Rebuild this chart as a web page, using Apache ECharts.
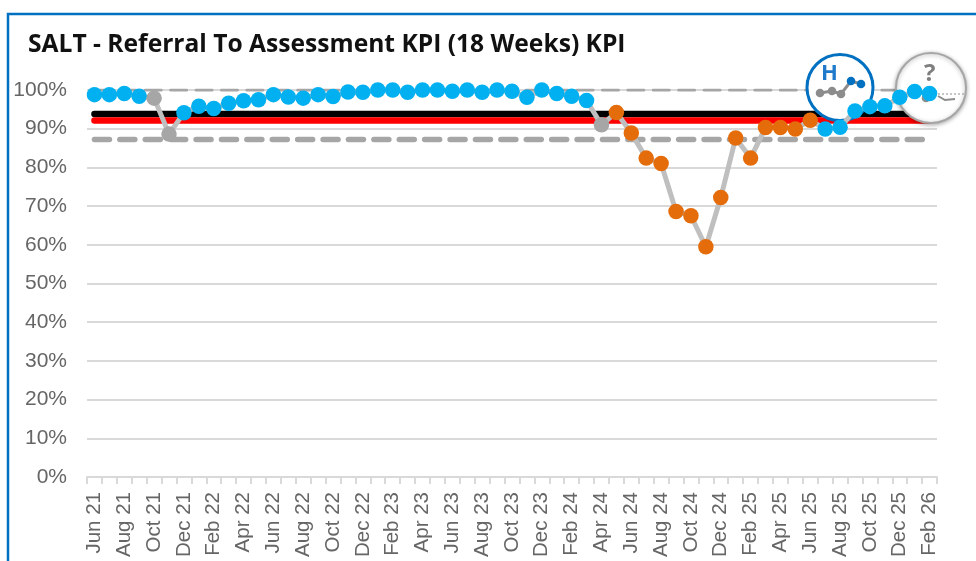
<!DOCTYPE html>
<html>
<head>
<meta charset="utf-8">
<style>
html, body { margin: 0; padding: 0; background: #fff; }
#chart { width: 976px; height: 561px; }
</style>
<script src="https://cdn.jsdelivr.net/npm/echarts@6/dist/echarts.min.js"></script>
</head>
<body>
<div id="chart"></div>
<script>
const MONTHS = ['Jun 21', 'Jul 21', 'Aug 21', 'Sep 21', 'Oct 21', 'Nov 21', 'Dec 21', 'Jan 22', 'Feb 22', 'Mar 22',
    'Apr 22', 'May 22', 'Jun 22', 'Jul 22', 'Aug 22', 'Sep 22', 'Oct 22', 'Nov 22', 'Dec 22', 'Jan 23',
    'Feb 23', 'Mar 23', 'Apr 23', 'May 23', 'Jun 23', 'Jul 23', 'Aug 23', 'Sep 23', 'Oct 23', 'Nov 23',
    'Dec 23', 'Jan 24', 'Feb 24', 'Mar 24', 'Apr 24', 'May 24', 'Jun 24', 'Jul 24', 'Aug 24', 'Sep 24',
    'Oct 24', 'Nov 24', 'Dec 24', 'Jan 25', 'Feb 25', 'Mar 25', 'Apr 25', 'May 25', 'Jun 25', 'Jul 25',
    'Aug 25', 'Sep 25', 'Oct 25', 'Nov 25', 'Dec 25', 'Jan 26', 'Feb 26']

const KPI_VALUES = [98.8, 98.8, 99.1, 98.4, 97.9, 88.6, 94.1, 95.8, 95.2, 96.6,
    97.2, 97.5, 98.8, 98.2, 97.9, 98.8, 98.3, 99.5, 99.4, 100,
    100, 99.4, 100, 100, 99.7, 100, 99.4, 100, 99.7, 98.1,
    100, 99.1, 98.4, 97.3, 91, 94.2, 88.9, 82.4, 81, 68.6,
    67.5, 59.5, 72.2, 87.6, 82.4, 90.3, 90.3, 89.9, 92.2, 89.9,
    90.4, 94.6, 95.7, 95.9, 98.1, 99.6, 99.1]

const TARGET_BLACK = 93.8
const TARGET_RED = 92.1
const LIMIT_UPPER = 100
const LIMIT_LOWER = 87.2

const STATUS_COLOR = { b: '#00B0F0', o: '#E46C0A', g: '#A6A6A6' }

function statusFor(i) {
    if (i === 4 || i === 5 || i === 34) return 'g'
    if (i >= 35 && i <= 48) return 'o'
    return 'b'
}

function flat(v) {
    return MONTHS.map(() => v)
}

function refLine(name, v, color, width, type) {
    return {
        name: name,
        type: 'line',
        data: flat(v),
        symbol: 'none',
        silent: true,
        z: 1,
        lineStyle: { color: color, width: width, type: type, cap: 'round' }
    }
}

const TITLE_FONT = '"Open Sans", sans-serif'
const AXIS_FONT = '"Liberation Sans", sans-serif'

const chart = echarts.init(document.getElementById('chart'), null, { renderer: 'canvas' })

chart.setOption({
    animation: false,
    backgroundColor: '#fff',
    grid: { left: 87, right: 39, top: 90, bottom: 84 },
    title: {
        text: 'SALT - Referral To Assessment KPI (18 Weeks) KPI',
        left: 23,
        top: 27,
        textStyle: { fontFamily: TITLE_FONT, fontWeight: 'bold', fontSize: 24.6, color: '#111' }
    },
    xAxis: {
        type: 'category',
        data: MONTHS,
        axisLine: { lineStyle: { color: '#D9D9D9', width: 2 } },
        axisTick: { show: true, interval: 0, length: 7, lineStyle: { color: '#D9D9D9', width: 2 } },
        axisLabel: { interval: 1, rotate: 90, fontFamily: AXIS_FONT, fontSize: 20.5, color: '#666', margin: 15 }
    },
    yAxis: {
        type: 'value',
        min: 0,
        max: 100,
        interval: 10,
        axisLine: { show: false },
        axisTick: { show: false },
        axisLabel: { formatter: '{value}%', fontFamily: AXIS_FONT, fontSize: 21, color: '#666', margin: 20 },
        splitLine: { lineStyle: { color: '#D9D9D9', width: 2 } }
    },
    graphic: [
        // blue outer frame, runs off the right and bottom of the picture
        { type: 'rect', z: 0, shape: { x: 8, y: 14, width: 1000, height: 600 },
          style: { fill: 'none', stroke: '#0070C0', lineWidth: 2.5 } },
        // H badge
        { type: 'circle', z: 3, shape: { cx: 840, cy: 87.5, r: 33 },
          style: { fill: '#fff', stroke: '#0070C0', lineWidth: 3 } },
        { type: 'text', z: 3, style: { x: 821, y: 63, text: 'H', fontFamily: TITLE_FONT, fontSize: 22, fontWeight: 'bold', fill: '#1F7ACC' } },
        { type: 'polyline', z: 3, shape: { points: [[820, 93], [832, 91], [841, 94], [851, 81], [861, 84]] },
          style: { fill: 'none', stroke: '#8C8C8C', lineWidth: 3 } },
        { type: 'circle', z: 3, shape: { cx: 820, cy: 93, r: 4.3 }, style: { fill: '#8C8C8C' } },
        { type: 'circle', z: 3, shape: { cx: 832, cy: 91, r: 4.3 }, style: { fill: '#8C8C8C' } },
        { type: 'circle', z: 3, shape: { cx: 841, cy: 94, r: 4.3 }, style: { fill: '#8C8C8C' } },
        { type: 'circle', z: 3, shape: { cx: 851, cy: 81, r: 4.3 }, style: { fill: '#0070C0' } },
        { type: 'circle', z: 3, shape: { cx: 861, cy: 84, r: 4.3 }, style: { fill: '#0070C0' } },
        // ? badge
        { type: 'circle', z: 3, shape: { cx: 931, cy: 88, r: 35 },
          style: { fill: '#fff', stroke: '#A6A6A6', lineWidth: 2, shadowBlur: 4, shadowColor: 'rgba(0,0,0,0.3)', shadowOffsetY: 1 } },
        { type: 'text', z: 3, style: { x: 924, y: 62, text: '?', fontFamily: TITLE_FONT, fontSize: 24, fontWeight: 'bold', fill: '#7F7F7F' } },
        { type: 'polyline', z: 3, shape: { points: [[938, 94], [966, 94]] },
          style: { fill: 'none', stroke: '#8C8C8C', lineWidth: 1, lineDash: [2, 2] } },
        { type: 'circle', z: 3, shape: { cx: 926, cy: 98, r: 4.3 }, style: { fill: '#8C8C8C' } },
        { type: 'polyline', z: 3, shape: { points: [[938, 96], [945, 100], [955, 99]] },
          style: { fill: 'none', stroke: '#8C8C8C', lineWidth: 2 } }
    ],
    series: [
        refLine('Upper limit', LIMIT_UPPER, '#A6A6A6', 3, [16, 9.4]),
        refLine('Lower limit', LIMIT_LOWER, '#A6A6A6', 5.5, [15, 10.4]),
        refLine('Target', TARGET_BLACK, '#000', 6.5, 'solid'),
        refLine('Minimum', TARGET_RED, '#FF0000', 6.5, 'solid'),
        {
            name: 'KPI',
            type: 'line',
            z: 5,
            clip: false,
            showAllSymbol: true,
            data: KPI_VALUES.map((v, i) => ({
                value: v,
                itemStyle: { color: STATUS_COLOR[statusFor(i)] }
            })),
            symbol: 'circle',
            symbolSize: 15.5,
            lineStyle: { color: '#BFBFBF', width: 5 }
        }
    ]
})
</script>
</body>
</html>
